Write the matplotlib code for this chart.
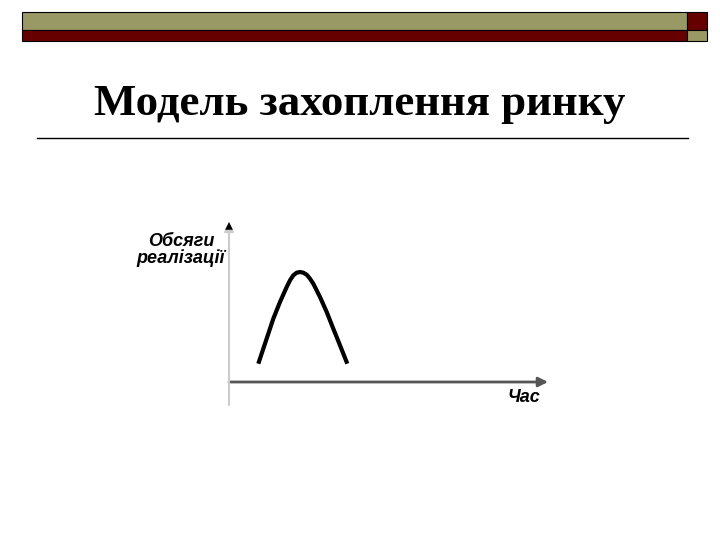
import matplotlib.pyplot as plt
from matplotlib.patches import Rectangle

title = 'Модель захоплення ринку'
ylabel = 'Обсяги\nреалізації'
xlabel = 'Час'

# curve (time, sales volume)
t = [29.3, 34.3, 39.3, 44.3, 51, 57.7, 61, 64.3, 67.7, 71, 74.3, 77.7, 81, 84.3, 91, 97.7, 104.3, 111, 118.3]
v = [18.3, 33.3, 48.3, 63.3, 80, 95, 101.7, 106.7, 109.3, 110, 109.3, 107.3, 103.3, 98.3, 85, 70, 53.3, 36.7, 18.3]

W, H = 720, 540
fig = plt.figure(figsize=(7.2, 5.4), dpi=100)
fig.patch.set_facecolor('white')

olive = '#999966'
dred = '#660000'

def rect(x0, y0, x1, y1, c):
    fig.patches.append(Rectangle((x0 / W, 1 - y1 / H), (x1 - x0) / W, (y1 - y0) / H,
                                 transform=fig.transFigure, facecolor=c,
                                 edgecolor='black', linewidth=0.8))

rect(22, 12, 687, 30, olive)
rect(22, 30, 687, 41, dred)
rect(687, 12, 707, 30, dred)
rect(687, 30, 707, 41, olive)

fig.text(360 / W, 1 - 104 / H, title, ha='center', va='center',
         fontsize=32.3, fontweight='bold', family='Liberation Serif')
fig.add_artist(plt.Line2D([37 / W, 688 / W], [1 - 138 / H, 1 - 138 / H],
                          transform=fig.transFigure, color='black', linewidth=1))

# chart area: origin at (229, 382) px
x0, y0, x1, y1 = 229, 382, 548, 222
ax = fig.add_axes([x0 / W, 1 - y0 / H, (x1 - x0) / W, (y0 - y1) / H])
ax.set_xlim(0, x1 - x0)
ax.set_ylim(0, y0 - y1)
ax.axis('off')

ax.plot(t, v, color='black', linewidth=3, solid_capstyle='butt', solid_joinstyle='round')

ax.annotate('', xy=(1, 0), xytext=(0, 0), xycoords='axes fraction',
            arrowprops=dict(arrowstyle='-|>', color='#555555', lw=2,
                            mutation_scale=14, shrinkA=0, shrinkB=0))
ax.annotate('', xy=(0, 1), xytext=(0, -23 / (y0 - y1)), xycoords='axes fraction',
            arrowprops=dict(arrowstyle='-|>', color='#cccccc', lw=1.5,
                            mutation_scale=14, shrinkA=0, shrinkB=0))
ax.annotate('', xy=(0, 1), xytext=(0, 0.93), xycoords='axes fraction',
            arrowprops=dict(arrowstyle='-|>', color='black', lw=0,
                            mutation_scale=14, shrinkA=0, shrinkB=0))

fig.text(181 / W, 1 - 250 / H, ylabel, ha='center', va='center', fontsize=13,
         fontweight='bold', fontstyle='italic', family='Liberation Sans',
         linespacing=0.95)
fig.text(524 / W, 1 - 398 / H, xlabel, ha='center', va='center', fontsize=13,
         fontweight='bold', fontstyle='italic', family='Liberation Sans')

plt.savefig('out.png', dpi=100)
